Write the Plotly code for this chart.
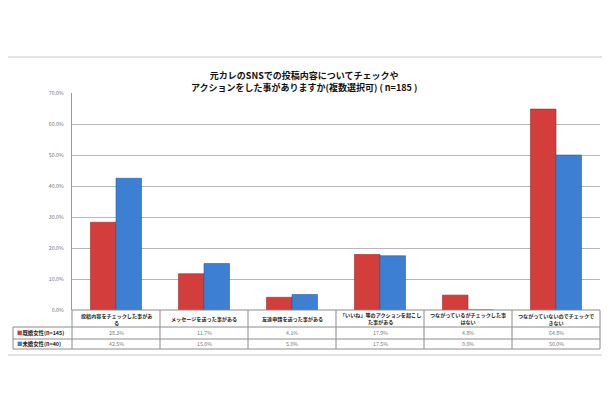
import plotly.graph_objects as go

categories = [
    "投稿内容をチェックした事があ<br>る",
    "メッセージを送った事がある",
    "友達申請を送った事がある",
    "「いいね」等のアクションを起こし<br>た事がある",
    "つながっているがチェックした事<br>はない",
    "つながっていないのでチェックで<br>きない",
]
married = [28.3, 11.7, 4.1, 17.9, 4.8, 64.8]
unmarried = [42.5, 15.0, 5.0, 17.5, 0.0, 50.0]
series_names = ["既婚女性(n=145)", "未婚女性(n=40)"]
y_ticks = [0, 10, 20, 30, 40, 50, 60, 70]

RED = "#D33D3C"
BLUE = "#3D7FD3"
FONT = "Noto Sans CJK JP"

OFF = 8  # page body margin
W, H = 610 - OFF, 400 - OFF
# page coordinates of plot area
PL, PR, PT, PB = 72, 600, 93, 310
L, T = PL - OFF, PT - OFF
R, B = W - (PR - OFF), H - (PB - OFF)
PW, PH = PR - PL, PB - PT


def px(x):  # page x -> paper
    return (x - PL) / PW


def py(y):  # page y -> paper
    return (PB - y) / PH


xs = list(range(len(categories)))

fig = go.Figure()
fig.add_trace(go.Bar(x=xs, y=married, name=series_names[0],
                     marker=dict(color=RED, line=dict(color="#9E2A2A", width=0.6))))
fig.add_trace(go.Bar(x=xs, y=unmarried, name=series_names[1],
                     marker=dict(color=BLUE, line=dict(color="#2C5E9E", width=0.6))))

shapes = []
annotations = []
n = len(categories)
cw = PW / n
row_top = PB             # 310
row_cat = row_top + 17   # 327
row_m = row_cat + 12     # 339
row_u = row_m + 10       # 349
leg_left = 13
line = dict(color="#8C8C8C", width=1)

for yy, x0 in [(row_top, PL), (row_cat, leg_left), (row_m, leg_left), (row_u, leg_left)]:
    shapes.append(dict(type="line", xref="paper", yref="paper",
                       x0=px(x0), x1=px(PR), y0=py(yy), y1=py(yy), line=line))
shapes.append(dict(type="line", xref="paper", yref="paper",
                   x0=px(leg_left), x1=px(leg_left), y0=py(row_cat), y1=py(row_u), line=line))
for i in range(n + 1):
    xx = PL + i * cw
    shapes.append(dict(type="line", xref="paper", yref="paper",
                       x0=px(xx), x1=px(xx), y0=py(row_top), y1=py(row_u), line=line))

# outer chart border
shapes.append(dict(type="rect", xref="paper", yref="paper",
                   x0=px(3), x1=px(607), y0=py(57), y1=py(355),
                   line=dict(color="#C8C8C8", width=1)))

for i, c in enumerate(categories):
    annotations.append(dict(x=i, xref="x", y=py((row_top + row_cat) / 2), yref="paper",
                            text="<b>" + c + "</b>", showarrow=False, align="center",
                            font=dict(family=FONT, size=5.1, color="#222"),
                            xanchor="center", yanchor="middle"))
    annotations.append(dict(x=i, xref="x", y=py((row_cat + row_m) / 2), yref="paper",
                            text=f"{married[i]:.1f}%", showarrow=False,
                            font=dict(family=FONT, size=5.3, color="#777"),
                            xanchor="center", yanchor="middle"))
    annotations.append(dict(x=i, xref="x", y=py((row_m + row_u) / 2), yref="paper",
                            text=f"{unmarried[i]:.1f}%", showarrow=False,
                            font=dict(family=FONT, size=5.3, color="#777"),
                            xanchor="center", yanchor="middle"))

for name, col, (a, b) in [(series_names[0], RED, (row_cat, row_m)),
                          (series_names[1], BLUE, (row_m, row_u))]:
    annotations.append(dict(x=px(leg_left + 2), xref="paper", y=py((a + b) / 2), yref="paper",
                            text=f"<span style='color:{col}'>■</span><b>{name}</b>",
                            showarrow=False, xanchor="left", yanchor="middle",
                            font=dict(family=FONT, size=5.4, color="#222")))

annotations.append(dict(x=px(304), xref="paper", y=py(81), yref="paper",
                        text="<b>元カレのSNSでの投稿内容についてチェックや<br>アクションをした事がありますか(複数選択可) ( n=185 )</b>",
                        showarrow=False, xanchor="center", yanchor="middle",
                        font=dict(family=FONT, size=9, color="#111"), align="center"))

fig.update_layout(
    width=W, height=H,
    margin=dict(l=L, r=R, t=T, b=B, pad=0),
    paper_bgcolor="white", plot_bgcolor="white",
    barmode="group", bargap=0.42, bargroupgap=0,
    showlegend=False,
    shapes=shapes, annotations=annotations,
    font=dict(family=FONT),
    xaxis=dict(range=[-0.5, n - 0.5], showticklabels=False, showgrid=False,
               zeroline=False, showline=False, ticks=""),
    yaxis=dict(range=[0, 70], tickvals=y_ticks,
               ticktext=[f"{v:.1f}%" for v in y_ticks],
               tickfont=dict(family=FONT, size=5.3, color="#777"),
               showgrid=True, gridcolor="#B8B8B8", gridwidth=1,
               zeroline=False, showline=True, linecolor="#999", linewidth=1,
               ticks="", ticklabelstandoff=6),
)

fig.write_html("out.html")
